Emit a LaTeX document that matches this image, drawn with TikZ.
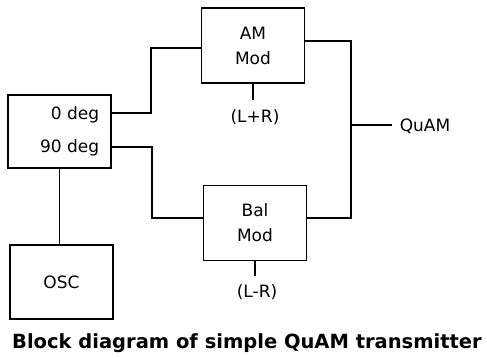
\documentclass[tikz,border=0pt]{standalone}
\usepackage{fontspec}
\setmainfont{DejaVu Sans}
\usetikzlibrary{positioning,calc}

\begin{document}
\begin{tikzpicture}[x=1pt, y=-1pt, font=\fontsize{17}{25}\selectfont, line width=1.5pt,
  blk/.style={draw, minimum width=103pt, minimum height=75pt, inner sep=0pt, align=center}]
\useasboundingbox (0,0) rectangle (487,358);
% blocks
\node[blk] (am) at (253,45.5) {AM\\Mod};
\node[blk] (bal) at (255,223) {Bal\\Mod};
\node[blk, minimum height=73pt] (ph) at (59.5,131.5) {};
\node[blk, minimum height=74pt] (osc) at (61.5,282) {OSC};
\node[left, inner sep=1pt] (deg0) at (101,115) {0 deg};
\node[left, inner sep=1pt] (deg90) at (101,148) {90 deg};
% labels
\node (lpr) at (255,117) {(L+R)};
\node (lmr) at (257,292) {(L-R)};
\node[right, inner sep=1pt] (out) at (398,126) {QuAM};
\coordinate (sum) at (351,125);
% wiring
\draw (ph.east |- 0,113) -| (151,48) -- (am.west |- 0,48);
\draw (ph.east |- 0,147) -| (152,218) -- (bal.west |- 0,218);
\draw (am.east |- 0,41) -| (sum) |- (bal.east |- 0,218);
\draw (sum) -- (392,125);
\draw (am.south) -- ++(0,16);
\draw (bal.south) -- ++(0,15);
\draw (ph.south) -- (ph.south |- osc.north);
% caption
\node[font=\bfseries\fontsize{19.5}{23}\selectfont] (cap) at (247,343) {Block diagram of simple QuAM transmitter};
\end{tikzpicture}
\end{document}
